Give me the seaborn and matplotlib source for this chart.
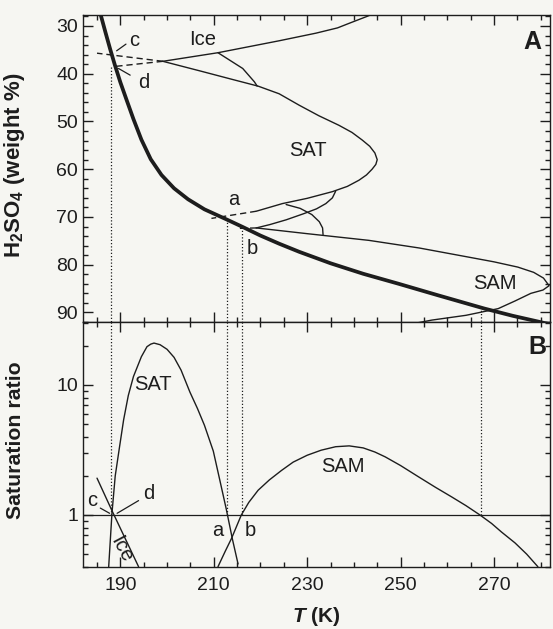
import matplotlib
matplotlib.use("Agg")
import matplotlib.pyplot as plt
import seaborn as sns
import pandas as pd
from matplotlib.ticker import (FixedLocator, MultipleLocator, LogLocator,
                               NullFormatter, FormatStrFormatter)

# ---------------- Panel A: composition (wt % H2SO4) vs temperature ----------------
# aerosol composition in equilibrium with the gas phase (thick curve)
aerosol_T = [185.8, 186.8, 187.8, 188.8, 190.0, 191.3, 192.8, 194.5, 196.5, 198.8,
             201.5, 204.5, 208.0, 212.7, 216.2, 220.0, 224.0, 228.3, 235.0, 242.0,
             249.6, 258.0, 268.0, 274.0, 279.4, 282.5]
aerosol_W = [27.7, 31.3, 34.8, 38.1, 41.8, 45.4, 49.5, 53.8, 57.9, 61.2,
             64.0, 66.3, 68.4, 70.5, 72.1, 73.9, 75.6, 77.3, 79.7, 81.9,
             84.0, 86.4, 89.2, 90.7, 91.9, 92.6]

# ice melting line
ice_T = [199.1, 210.9, 224.0, 231.9, 236.5, 239.1, 242.8, 244.5]
ice_W = [37.4, 35.6, 33.1, 31.5, 30.4, 29.4, 28.0, 27.3]

# SAT melting curve
sat_T = [199.1, 207.0, 214.0, 219.5, 224.0, 228.3, 232.5, 236.8, 239.6, 241.8,
         243.4, 244.5, 245.0, 244.7, 243.9, 242.7, 241.1, 238.6, 235.4, 230.0,
         224.7, 219.1]
sat_W = [37.4, 39.4, 41.2, 42.6, 44.2, 46.6, 48.8, 50.8, 52.3, 53.9,
         55.2, 56.6, 58.0, 59.0, 60.0, 61.2, 62.3, 63.6, 64.7, 66.1,
         67.2, 68.8]

# hydrate boundary between the ice and SAT lines
hyd1_T = [210.9, 216.2, 218.7, 219.3]
hyd1_W = [35.6, 38.9, 41.7, 42.6]

# hydrate boundaries between SAT and SAM
hyd2_T = [219.1, 222.0, 225.5, 229.3, 232.0, 234.0, 235.4, 236.1]
hyd2_W = [72.3, 71.6, 70.6, 69.3, 68.3, 67.2, 66.0, 64.6]
hyd3_T = [225.5, 228.5, 231.0, 232.6, 233.3, 233.4]
hyd3_W = [67.4, 68.2, 69.5, 71.0, 72.3, 73.7]

# SAM melting curve
sam_T = [219.1, 230.0, 243.2, 254.0, 264.5, 270.0, 275.1, 278.5, 280.6, 281.8,
         280.5, 277.9, 274.5, 270.9, 264.0, 256.7, 253.5]
sam_W = [72.3, 73.5, 74.9, 76.5, 78.4, 79.4, 80.5, 81.6, 82.8, 84.4,
         85.3, 86.0, 87.6, 89.2, 90.6, 91.6, 92.2]

# metastable extensions (dashed)
sat_ext_T = [199.1, 185.0]
sat_ext_W = [37.4, 35.7]
ice_ext_T = [199.1, 188.6]
ice_ext_W = [37.4, 38.5]
sat_ext2_T = [219.1, 209.5]
sat_ext2_W = [68.8, 70.3]
sam_ext_T = [219.1, 215.0]
sam_ext_W = [72.3, 72.4]

# temperatures of the marked intersections (dotted drop lines)
drop_T = [188.0, 212.8, 216.0, 267.2]
drop_W = [38.6, 70.5, 72.1, 88.9]

# ---------------- Panel B: saturation ratio vs temperature ----------------
satB_T = [187.5, 188.2, 188.9, 189.8, 190.7, 191.7, 192.8, 194.5, 195.7, 196.5,
          197.2, 198.5, 200.0, 201.5, 203.0, 204.9, 206.5, 208.0, 209.9, 211.3,
          212.7, 214.0, 215.2]
satB_S = [0.40, 1.03, 2.0, 3.3, 5.4, 8.3, 11.6, 16.5, 19.7, 20.6,
          21.0, 20.4, 18.8, 16.3, 13.0, 8.8, 6.6, 4.9, 3.1, 1.85,
          1.1, 0.65, 0.42]

iceB_T = [185.0, 188.2, 193.9]
iceB_S = [1.92, 1.08, 0.40]

samB_T = [210.9, 212.5, 213.8, 215.9, 217.5, 219.5, 221.9, 224.5, 227.0, 230.0,
          233.0, 236.1, 239.0, 242.0, 244.5, 246.7, 250.0, 253.8, 257.5, 260.9,
          264.0, 267.0, 269.5, 271.6, 274.5, 277.0, 279.4]
samB_S = [0.40, 0.53, 0.66, 1.00, 1.25, 1.55, 1.86, 2.20, 2.55, 2.88,
          3.15, 3.35, 3.40, 3.28, 3.05, 2.80, 2.40, 1.97, 1.63, 1.38,
          1.18, 1.00, 0.86, 0.74, 0.61, 0.50, 0.40]

x_major = [190, 210, 230, 250, 270]
wt_major = [30, 40, 50, 60, 70, 80, 90]
s_major = [1, 10]

# ---------------- styling ----------------
sns.set_theme(style="ticks")
INK = "#1d1d1d"
PAPER = "#f6f6f2"
plt.rcParams.update({
    "font.family": ["Liberation Sans", "DejaVu Sans"],
    "mathtext.fontset": "custom",
    "mathtext.rm": "Liberation Sans:bold",
    "mathtext.bf": "Liberation Sans:bold",
    "mathtext.it": "Liberation Sans:italic:bold",
    "text.color": INK,
    "axes.edgecolor": INK,
    "axes.labelcolor": INK,
    "xtick.color": INK,
    "ytick.color": INK,
    "axes.linewidth": 1.0,
})

fig = plt.figure(figsize=(5.53, 6.29), dpi=100, facecolor=PAPER)
axA = fig.add_axes([0.1501, 0.48808, 0.8445, 0.48808], facecolor=PAPER)
axB = fig.add_axes([0.1501, 0.09857, 0.8445, 0.38951], facecolor=PAPER)

XLIM = (182.0, 282.0)
WLIM = (92.0, 27.7)
SLIM = (0.398, 30.5)


def curve(ax, T, V, lw=1.0, ls="-"):
    df = pd.DataFrame({"T": T, "V": V})
    sns.lineplot(data=df, x="T", y="V", ax=ax, sort=False, estimator=None,
                 color=INK, lw=lw, linestyle=ls, legend=False)


dash = (0, (4.5, 2.8))

# ---- panel A ----
curve(axA, aerosol_T, aerosol_W, lw=2.7)
for T, W in [(ice_T, ice_W), (sat_T, sat_W), (hyd1_T, hyd1_W),
             (hyd2_T, hyd2_W), (hyd3_T, hyd3_W), (sam_T, sam_W)]:
    curve(axA, T, W, lw=1.0)
for T, W in [(sat_ext_T, sat_ext_W), (ice_ext_T, ice_ext_W),
             (sat_ext2_T, sat_ext2_W), (sam_ext_T, sam_ext_W)]:
    curve(axA, T, W, lw=1.0, ls=dash)
axA.vlines(drop_T, drop_W, WLIM[0], colors=INK, lw=0.9, linestyles=(0, (1, 1.6)))

axA.set_xlim(*XLIM)
axA.set_ylim(*WLIM)

fs_lab = 14.5
axA.text(207.7, 32.9, "Ice", fontsize=fs_lab, ha="center", va="center")
axA.text(230.1, 56.0, "SAT", fontsize=fs_lab, ha="center", va="center")
axA.text(270.1, 83.9, "SAM", fontsize=fs_lab, ha="center", va="center")
axA.text(193.0, 33.0, "c", fontsize=fs_lab, ha="center", va="center")
axA.text(195.0, 41.8, "d", fontsize=fs_lab, ha="center", va="center")
axA.text(214.2, 66.3, "a", fontsize=fs_lab, ha="center", va="center")
axA.text(218.2, 76.6, "b", fontsize=fs_lab, ha="center", va="center")
axA.plot([189.2, 191.2], [35.2, 33.8], color=INK, lw=0.9)
axA.plot([189.6, 192.1], [38.9, 40.3], color=INK, lw=0.9)
axA.text(0.962, 0.913, "A", transform=axA.transAxes, fontsize=18,
         fontweight="bold", ha="center", va="center")

axA.xaxis.set_major_locator(FixedLocator(x_major))
axA.xaxis.set_minor_locator(MultipleLocator(5))
axA.yaxis.set_major_locator(FixedLocator(wt_major))
axA.yaxis.set_minor_locator(MultipleLocator(2))
axA.tick_params(axis="both", which="both", direction="in", top=True, right=True,
                labelbottom=False, labelsize=14, width=1.0, pad=3.5)
axA.tick_params(which="major", length=7)
axA.tick_params(which="minor", length=3.5)
axA.set_xlabel("")
axA.set_ylabel(r"H$_\mathbf{2}$SO$_\mathbf{4}$ (weight %)", fontsize=16,
               fontweight="bold")
axA.yaxis.set_label_coords(-0.12, 0.51)

# ---- panel B ----
axB.set_yscale("log")
axB.axhline(1.0, color=INK, lw=0.9)
curve(axB, satB_T, satB_S, lw=1.0)
curve(axB, iceB_T, iceB_S, lw=1.0)
curve(axB, samB_T, samB_S, lw=1.0)
axB.vlines(drop_T, 1.0, SLIM[1], colors=INK, lw=0.9, linestyles=(0, (1, 1.6)))

axB.set_xlim(*XLIM)
axB.set_ylim(*SLIM)

axB.text(197.0, 10.0, "SAT", fontsize=fs_lab, ha="center", va="center")
axB.text(237.7, 2.36, "SAM", fontsize=fs_lab, ha="center", va="center")
axB.text(184.0, 1.30, "c", fontsize=fs_lab, ha="center", va="center")
axB.text(196.0, 1.47, "d", fontsize=fs_lab, ha="center", va="center")
axB.text(210.9, 0.757, "a", fontsize=fs_lab, ha="center", va="center")
axB.text(217.9, 0.757, "b", fontsize=fs_lab, ha="center", va="center")
axB.text(190.2, 0.54, "Ice", fontsize=fs_lab, ha="center", va="center",
         rotation=-62)
axB.plot([185.7, 187.7], [1.13, 1.03], color=INK, lw=0.9)
axB.plot([193.9, 189.3], [1.29, 1.03], color=INK, lw=0.9)
axB.text(0.972, 0.899, "B", transform=axB.transAxes, fontsize=18,
         fontweight="bold", ha="center", va="center")

axB.xaxis.set_major_locator(FixedLocator(x_major))
axB.xaxis.set_minor_locator(MultipleLocator(5))
axB.yaxis.set_major_locator(FixedLocator(s_major))
axB.yaxis.set_major_formatter(FormatStrFormatter("%g"))
axB.yaxis.set_minor_locator(LogLocator(base=10, subs=[2, 3, 4, 5, 6, 7, 8, 9]))
axB.yaxis.set_minor_formatter(NullFormatter())
axB.tick_params(axis="both", which="both", direction="in", top=True, right=True,
                labelsize=14, width=1.0)
axB.tick_params(axis="x", which="both", pad=7)
axB.tick_params(axis="y", which="both", pad=3.5)
axB.tick_params(which="major", length=7)
axB.tick_params(which="minor", length=3.5)
axB.set_xlabel(r"$\mathit{T}$ (K)", fontsize=15, fontweight="bold")
axB.xaxis.set_label_coords(0.5, -0.155)
axB.set_ylabel("Saturation ratio", fontsize=15.3, fontweight="bold")
axB.yaxis.set_label_coords(-0.124, 0.518)

fig.savefig("out.png", dpi=100, facecolor=PAPER)
